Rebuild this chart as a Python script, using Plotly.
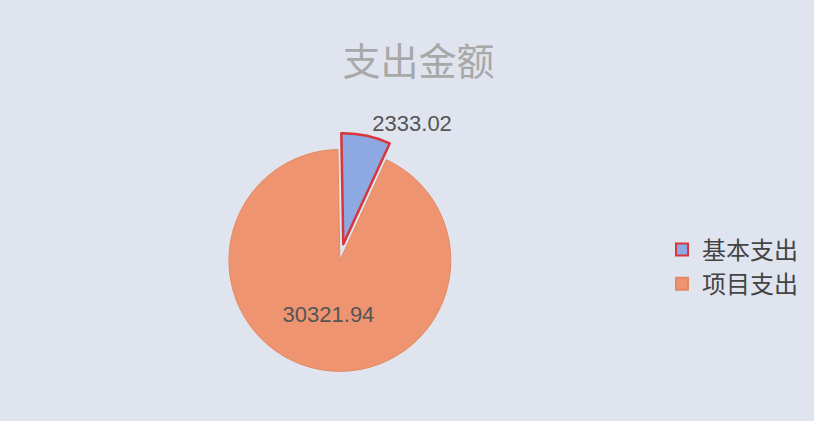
import plotly.graph_objects as go

labels = ["基本支出", "项目支出"]
values = [2333.02, 30321.94]
value_text = ["2333.02", "30321.94"]
slice_colors = ["#8ea8e2", "#ee9470"]
line_colors = ["#d8363a", "#e48a62"]
pulls = [0.1, 0.05]

W, H = 814, 421
cx, cy, half = 341, 255, 122

fig = go.Figure(go.Pie(
    labels=labels,
    values=values,
    text=value_text,
    texttemplate="%{text}",
    textposition=["outside", "inside"],
    insidetextorientation="horizontal",
    textfont=dict(family="Liberation Sans, Arial, sans-serif", size=22, color="#555555"),
    marker=dict(colors=slice_colors, line=dict(color=line_colors, width=[2.5, 1])),
    pull=pulls,
    sort=False,
    direction="clockwise",
    rotation=-1,
    hole=0,
    domain=dict(x=[(cx - half) / W, (cx + half) / W],
                y=[1 - (cy + half) / H, 1 - (cy - half) / H]),
    showlegend=True,
))

fig.update_layout(
    width=W, height=H,
    margin=dict(l=0, r=0, t=0, b=0),
    paper_bgcolor="#dfe4ef",
    plot_bgcolor="#dfe4ef",
    title=dict(text="支出金额", x=0.514, xanchor="center", y=1 - 62 / H, yanchor="middle",
               font=dict(family="Noto Sans CJK SC", size=38, color="#a8a8a8")),
    legend=dict(x=662 / W, xanchor="left", y=1 - 267 / H, yanchor="middle",
                font=dict(family="Noto Sans CJK SC", size=24, color="#444444"),
                itemsizing="constant", itemwidth=30, bgcolor="rgba(0,0,0,0)"),
)

fig.write_html("out.html", config={"displayModeBar": False},
               post_script="document.body.style.margin='0';document.body.style.overflow='hidden';")
